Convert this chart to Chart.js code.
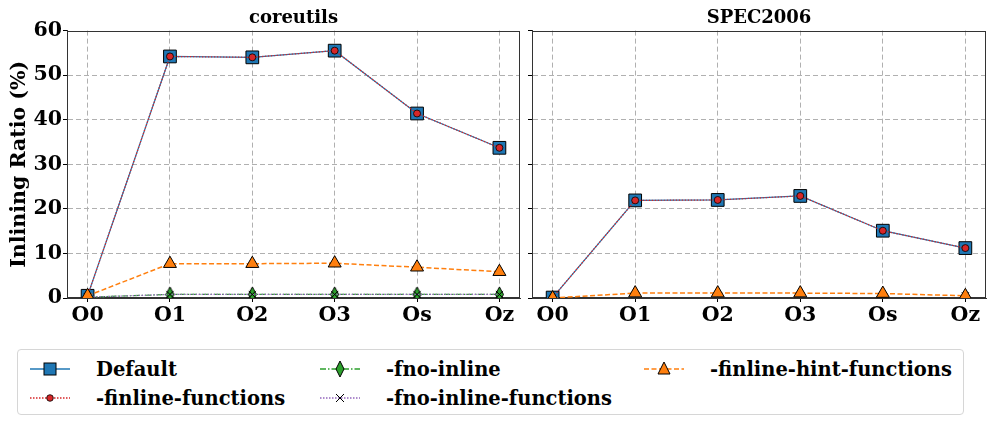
<!DOCTYPE html>
<html><head><meta charset="utf-8">
<script src="https://cdn.jsdelivr.net/npm/chart.js@4.4.0/dist/chart.umd.min.js"></script>
<style>
html,body{margin:0;padding:0;background:#fff;}
body{width:997px;height:427px;position:relative;overflow:hidden;font-family:"DejaVu Serif",serif;}
.c{position:absolute;top:0;}
#legend{position:absolute;left:17px;top:349px;width:947px;height:66px;border:1px solid #d6d6d6;border-radius:4px;box-sizing:border-box;font-weight:bold;font-size:19.5px;color:#000;}
.it{position:absolute;display:flex;align-items:center;height:26px;white-space:nowrap;}
.it svg{margin-right:26px;flex:none;}
</style></head><body>
<div class="c" id="w1" style="left:0;width:530px;height:330px;"><canvas id="c1"></canvas></div>
<div class="c" id="w2" style="left:530px;width:467px;height:330px;"><canvas id="c2"></canvas></div>
<div id="legend"></div>
<script>
const categories = ["O0","O1","O2","O3","Os","Oz"];
const seriesNames = ["Default","-finline-functions","-fno-inline","-fno-inline-functions","-finline-hint-functions"];
// coreutils
const coreDefault = [0.5, 54.2, 54.0, 55.5, 41.4, 33.7];
const coreInlineFunctions = [0.5, 54.2, 54.0, 55.5, 41.4, 33.7];
const coreNoInline = [0.2, 0.8, 0.8, 0.8, 0.8, 0.8];
const coreNoInlineFunctions = [0.2, 0.8, 0.8, 0.8, 0.8, 0.8];
const coreHint = [0.5, 7.7, 7.7, 7.8, 6.9, 5.9];
// SPEC2006 (no visible -fno-inline marks; only one -fno-inline-functions mark at Oz)
const specDefault = [0.1, 21.9, 22.0, 22.9, 15.1, 11.2];
const specInlineFunctions = [0.1, 21.9, 22.0, 22.9, 15.1, 11.2];
const specNoInline = [null, null, null, null, null, null];
const specNoInlineFunctions = [null, null, null, null, null, 0.5];
const specHint = [0.0, 1.1, 1.1, 1.1, 1.0, 0.5];
const yTicks = [0,10,20,30,40,50,60];

const FONT = "DejaVu Serif";
function thinDiamond(){
  const cv = document.createElement('canvas');
  const dpr = window.devicePixelRatio || 1;
  const w = 11, h = 17;
  cv.width = w*dpr; cv.height = h*dpr; cv.style.width = w+'px'; cv.style.height = h+'px';
  const g = cv.getContext('2d'); g.scale(dpr,dpr);
  g.beginPath(); g.moveTo(w/2,1); g.lineTo(w-1.5,h/2); g.lineTo(w/2,h-1); g.lineTo(1.5,h/2); g.closePath();
  g.fillStyle='#2ca02c'; g.fill(); g.lineWidth=1; g.strokeStyle='#000'; g.stroke();
  return cv;
}
const diamondImg = thinDiamond();

const pts = (arr)=>arr.map((v,i)=>({x:i, y:v}));

function datasets(d, f, n, nf, h){
  return [
    {label:seriesNames[0], data:pts(d), borderColor:'#1f77b4', borderWidth:1.2, pointStyle:'rect', pointRadius:9, pointBackgroundColor:'#1f77b4', pointBorderColor:'#000', pointBorderWidth:1, order:5},
    {label:seriesNames[1], data:pts(f), borderColor:'#d62728', borderWidth:1.2, borderDash:[1.5,1.5], pointStyle:'circle', pointRadius:3.5, pointBackgroundColor:'#d62728', pointBorderColor:'#000', pointBorderWidth:0.8, order:4},
    {label:seriesNames[2], data:pts(n), borderColor:'#2ca02c', borderWidth:1.2, borderDash:[6,2,1.5,2], pointStyle:diamondImg, pointRadius:6, pointBackgroundColor:'#2ca02c', pointBorderColor:'#000', order:3},
    {label:seriesNames[3], data:pts(nf), borderColor:'#9467bd', borderWidth:1.2, borderDash:[1.5,1.5], pointStyle:'crossRot', pointRadius:5, pointBackgroundColor:'#000', pointBorderColor:'#000', pointBorderWidth:1, order:2},
    {label:seriesNames[4], data:pts(h), borderColor:'#ff7f0e', borderWidth:1.5, borderDash:[5,2.5], pointStyle:'triangle', pointRadius:7.5, pointBackgroundColor:'#ff7f0e', pointBorderColor:'#000', pointBorderWidth:1, order:1}
  ].map(o=>Object.assign({tension:0, fill:false, pointHoverRadius:o.pointRadius, clip:{left:false,right:false,top:false,bottom:0}}, o));
}

function makeChart(id, title, data, showY, yWidth, padRight){
  return new Chart(document.getElementById(id), {
    type:'line',
    data:{datasets:data},
    options:{
      responsive:true, maintainAspectRatio:false, animation:false,
      layout:{padding:{left:0,right:padRight,top:4,bottom:0}},
      plugins:{
        legend:{display:false}, tooltip:{enabled:false},
        title:{display:true, fullSize:false, text:title, color:'#000', font:{family:FONT, size:18, weight:'bold'}, padding:{top:4,bottom:1}}
      },
      scales:{
        x:{
          type:'linear', min:-0.25, max:5.25,
          afterBuildTicks:(s)=>{s.ticks = categories.map((c,i)=>({value:i}));},
          afterFit:(s)=>{s.height=32; s.paddingLeft=0; s.paddingRight=0;},
          ticks:{color:'#000', font:{family:FONT, size:20.5, weight:'bold'}, padding:1, autoSkip:false, maxRotation:0,
                 callback:(v)=>categories[v]},
          grid:{color:'#b0b0b0', lineWidth:1, tickLength:4, tickColor:'#000', tickBorderDash:[], drawTicks:true},
          border:{display:true, color:'#333', width:1, dash:[5,3]}
        },
        y:{
          min:0, max:60,
          afterBuildTicks:(s)=>{s.ticks = yTicks.map(v=>({value:v}));},
          afterFit:(s)=>{s.width=yWidth;},
          title:{display:showY, text:'Inlining Ratio (%)', color:'#000', font:{family:FONT, size:20.5, weight:'bold'}, padding:{top:7,bottom:0}},
          ticks:{display:showY, color:'#000', font:{family:FONT, size:20.5, weight:'bold'}, padding:1},
          grid:{color:(c)=> (c.tick && (c.tick.value===0||c.tick.value===60)) ? 'rgba(0,0,0,0)' : '#b0b0b0', lineWidth:1, tickLength:4, tickColor:'#000', tickBorderDash:[], drawTicks:true},
          border:{display:true, color:'#333', width:1, dash:[5,3]}
        }
      }
    },
    plugins:[{
      id:'frame',
      beforeDatasetsDraw(chart){
        const a = chart.chartArea, g = chart.ctx;
        g.save(); g.strokeStyle='#333'; g.lineWidth=1; g.setLineDash([]);
        g.strokeRect(Math.round(a.left)+0.5, Math.round(a.top)+0.5, Math.round(a.right-a.left)-1, Math.round(a.bottom-a.top)-1);
        g.restore();
      }
    }]
  });
}

const ch1 = makeChart('c1','coreutils', datasets(coreDefault, coreInlineFunctions, coreNoInline, coreNoInlineFunctions, coreHint), true, 67, 8);
const ch2 = makeChart('c2','SPEC2006', datasets(specDefault, specInlineFunctions, specNoInline, specNoInlineFunctions, specHint), false, 2, 11);

// align plot areas to the reference frame positions (left plot starts at 67, right plot at 532)
function align(chart, wrapId, baseLeft, baseWidth, targetLeft){
  const dx = chart.chartArea.left - (targetLeft - baseLeft);
  if (Math.abs(dx) > 0.5){
    const w = document.getElementById(wrapId);
    w.style.left = (baseLeft - dx) + 'px';
    w.style.width = (baseWidth + dx) + 'px';
    chart.resize();
  }
}
align(ch2, 'w2', 530, 467, 532);

// HTML legend
const legendItems = [
  {name:seriesNames[0], col:0,row:0},
  {name:seriesNames[1], col:0,row:1},
  {name:seriesNames[2], col:1,row:0},
  {name:seriesNames[3], col:1,row:1},
  {name:seriesNames[4], col:2,row:0}
];
const colX = [12, 302, 626];
const icons = [
  '<line x1="0" y1="10" x2="40" y2="10" stroke="#1f77b4" stroke-width="1.5"/><rect x="14" y="4" width="12" height="12" fill="#1f77b4" stroke="#000"/>',
  '<line x1="0" y1="10" x2="40" y2="10" stroke="#d62728" stroke-width="1.5" stroke-dasharray="1.5 1.5"/><circle cx="20" cy="10" r="3.3" fill="#d62728" stroke="#000" stroke-width="0.8"/>',
  '<line x1="0" y1="10" x2="40" y2="10" stroke="#2ca02c" stroke-width="1.5" stroke-dasharray="6 2 1.5 2"/><polygon points="20,2 24,10 20,18 16,10" fill="#2ca02c" stroke="#000"/>',
  '<line x1="0" y1="10" x2="40" y2="10" stroke="#9467bd" stroke-width="1.5" stroke-dasharray="1.5 1.5"/><path d="M16 6 L24 14 M24 6 L16 14" stroke="#000" stroke-width="1"/>',
  '<line x1="0" y1="10" x2="40" y2="10" stroke="#ff7f0e" stroke-width="1.5" stroke-dasharray="5 2.5"/><polygon points="20,3 26,15 14,15" fill="#ff7f0e" stroke="#000"/>'
];
const lg = document.getElementById('legend');
legendItems.forEach((it,i)=>{
  const d = document.createElement('div');
  d.className='it';
  d.style.left = colX[it.col]+'px';
  d.style.top = (6 + it.row*29)+'px';
  d.innerHTML = '<svg width="40" height="20">'+icons[i]+'</svg><span>'+it.name+'</span>';
  lg.appendChild(d);
});
</script>
</body></html>
